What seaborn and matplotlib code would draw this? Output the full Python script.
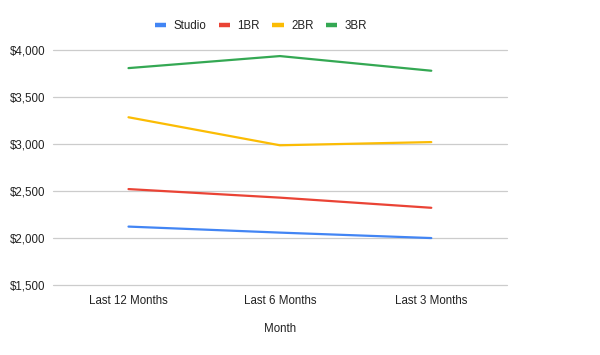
import pandas as pd
import seaborn as sns
import matplotlib.pyplot as plt
from matplotlib.ticker import FuncFormatter
from matplotlib.lines import Line2D

# data
months = ["Last 12 Months", "Last 6 Months", "Last 3 Months"]
studio = [2122, 2058, 2000]
one_br = [2521, 2430, 2322]
two_br = [3285, 2987, 3021]
three_br = [3808, 3936, 3780]

series = {"Studio": studio, "1BR": one_br, "2BR": two_br, "3BR": three_br}
colors = {"Studio": "#4285F4", "1BR": "#EA4335", "2BR": "#FBBC04", "3BR": "#34A853"}

rows = []
for name, vals in series.items():
    for m, v in zip(months, vals):
        rows.append([m, name, v])
df = pd.DataFrame(rows, columns=["Month", "type", "rent"])

sns.set_theme(style="white")
plt.rcParams["font.family"] = ["Liberation Sans", "DejaVu Sans"]

fig = plt.figure(figsize=(6, 3.55), dpi=100)
ax = fig.add_axes([0.088, 0.197, 0.757, 0.662])

sns.lineplot(data=df, x="Month", y="rent", hue="type", palette=colors,
             sort=False, linewidth=1.6, legend=False, ax=ax)

ax.set_xlim(-0.5, 2.5)
ax.set_ylim(1500, 4000)
ax.set_yticks([1500, 2000, 2500, 3000, 3500, 4000])
ax.yaxis.set_major_formatter(FuncFormatter(lambda v, p: f"${v:,.0f}"))
ax.grid(axis="y", color="#cccccc", linewidth=0.9)
for gl in ax.get_ygridlines():
    gl.set_clip_on(False)
ax.set_axisbelow(True)
for s in ax.spines.values():
    s.set_visible(False)
ax.tick_params(axis="both", length=0, labelsize=8.3, colors="#222222", pad=5)
ax.tick_params(axis="x", pad=7)
ax.set_ylabel("")
ax.set_xlabel("Month", fontsize=8.3, color="#222222", labelpad=12)

handles = [Line2D([], [], color=colors[n], linewidth=3.2, solid_capstyle="butt") for n in series]
fig.legend(handles, list(series), loc="center", bbox_to_anchor=(0.435, 0.928), ncol=4,
           frameon=False, fontsize=8.3, handlelength=1.0, handletextpad=0.65,
           columnspacing=1.05, labelcolor="#222222")

fig.savefig("out.png", dpi=100)
